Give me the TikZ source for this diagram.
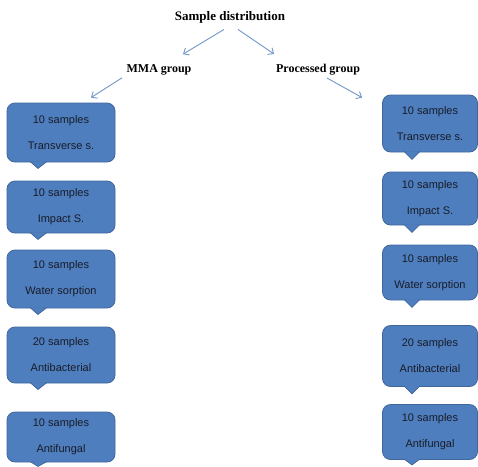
\documentclass[tikz,border=0pt]{standalone}
\usepackage{fontspec}
\setmainfont{Liberation Serif}
\setsansfont{Liberation Sans}
\usetikzlibrary{arrows.meta}
\definecolor{boxfill}{HTML}{4F7EBE}
\definecolor{boxedge}{HTML}{3F679C}
\definecolor{arrowblue}{HTML}{7097C6}
\definecolor{boxtext}{HTML}{171C28}

\tikzset{
  sbox/.style={draw=boxedge, fill=boxfill, line width=0.8pt, rounded corners=8pt,
    align=center, text=boxtext, inner sep=0pt,
    font=\sffamily\fontsize{11}{12}\selectfont},
  lbox/.style={sbox, minimum width=108pt},
  rbox/.style={sbox, minimum width=95pt},
  tip/.style={draw=boxedge, fill=boxfill, line width=0.8pt},
  grp/.style={font=\bfseries\fontsize{12}{12}\selectfont},
  arr/.style={draw=arrowblue, line width=0.9pt, -{Straight Barb[length=4.5pt,width=8pt]}}
}

\begin{document}
\begin{tikzpicture}[x=1pt,y=-1pt]
        \useasboundingbox (0,0) rectangle (478,466);

        % Draw headings
        \node[font=\bfseries\fontsize{13}{13}\selectfont] (title) at (230,17) {Sample distribution};
        \node[grp] (mma) at (159,70) {MMA group};
        \node[grp] (proc) at (318,70) {Processed group};

        % Draw MMA boxes
        \node[lbox, minimum height=59pt] (L1) at (61,132.5) {10 samples\\[14pt]Transverse s.};
        \node[lbox, minimum height=52pt] (L2) at (61,207) {10 samples\\[14pt]Impact S.};
        \node[lbox, minimum height=58pt] (L3) at (61,279) {10 samples\\[14pt]Water sorption};
        \node[lbox, minimum height=56pt] (L4) at (61,355) {20 samples\\[14pt]Antibacterial};
        \node[lbox, minimum height=50pt] (L5) at (61,437) {10 samples\\[14pt]Antifungal};

        % Draw processed boxes
        \node[rbox, minimum height=57pt] (R1) at (430,123.5) {10 samples\\[14pt]Transverse s.};
        \node[rbox, minimum height=53pt] (R2) at (430,198.5) {10 samples\\[14pt]Impact S.};
        \node[rbox, minimum height=55pt] (R3) at (430,272.5) {10 samples\\[14pt]Water sorption};
        \node[rbox, minimum height=61pt] (R4) at (430,356) {20 samples\\[14pt]Antibacterial};
        \node[rbox, minimum height=55pt] (R5) at (430,432) {10 samples\\[14pt]Antifungal};

        % Draw arrows
        \draw[arr] ([xshift=-6pt,yshift=-3pt]title.south) -- ([xshift=24pt,yshift=7pt]mma.north);
        \draw[arr] ([xshift=8pt,yshift=-3pt]title.south) -- ([xshift=-44pt,yshift=7pt]proc.north);
        \draw[arr] ([xshift=-37pt,yshift=1pt]mma.south) -- ([xshift=30pt,yshift=5pt]L1.north);
        \draw[arr] ([xshift=9pt,yshift=1pt]proc.south) -- ([xshift=-20pt,yshift=-3pt]R1.north west);

        % Draw pointers
        \filldraw[tip] ([xshift=-31pt,yshift=1pt]L1.south) -- ([xshift=-23pt,yshift=-6pt]L1.south) -- ([xshift=-14pt,yshift=1pt]L1.south);
        \filldraw[tip] ([xshift=-31pt,yshift=1pt]L2.south) -- ([xshift=-23pt,yshift=-6pt]L2.south) -- ([xshift=-14pt,yshift=1pt]L2.south);
        \filldraw[tip] ([xshift=-31pt,yshift=1pt]L3.south) -- ([xshift=-23pt,yshift=-6pt]L3.south) -- ([xshift=-14pt,yshift=1pt]L3.south);
        \filldraw[tip] ([xshift=-31pt,yshift=1pt]L4.south) -- ([xshift=-23pt,yshift=-6pt]L4.south) -- ([xshift=-14pt,yshift=1pt]L4.south);
        \filldraw[tip] ([xshift=-31pt,yshift=1pt]L5.south) -- ([xshift=-23pt,yshift=-4pt]L5.south) -- ([xshift=-14pt,yshift=1pt]L5.south);
        \filldraw[tip] ([xshift=-26pt,yshift=1pt]R1.south) -- ([xshift=-18pt,yshift=-7pt]R1.south) -- ([xshift=-10pt,yshift=1pt]R1.south);
        \filldraw[tip] ([xshift=-26pt,yshift=1pt]R2.south) -- ([xshift=-18pt,yshift=-7pt]R2.south) -- ([xshift=-10pt,yshift=1pt]R2.south);
        \filldraw[tip] ([xshift=-26pt,yshift=1pt]R3.south) -- ([xshift=-18pt,yshift=-7pt]R3.south) -- ([xshift=-10pt,yshift=1pt]R3.south);
        \filldraw[tip] ([xshift=-26pt,yshift=1pt]R4.south) -- ([xshift=-18pt,yshift=-7pt]R4.south) -- ([xshift=-10pt,yshift=1pt]R4.south);
        \filldraw[tip] ([xshift=-26pt,yshift=1pt]R5.south) -- ([xshift=-18pt,yshift=-5pt]R5.south) -- ([xshift=-10pt,yshift=1pt]R5.south);

        \end{tikzpicture}
\end{document}
